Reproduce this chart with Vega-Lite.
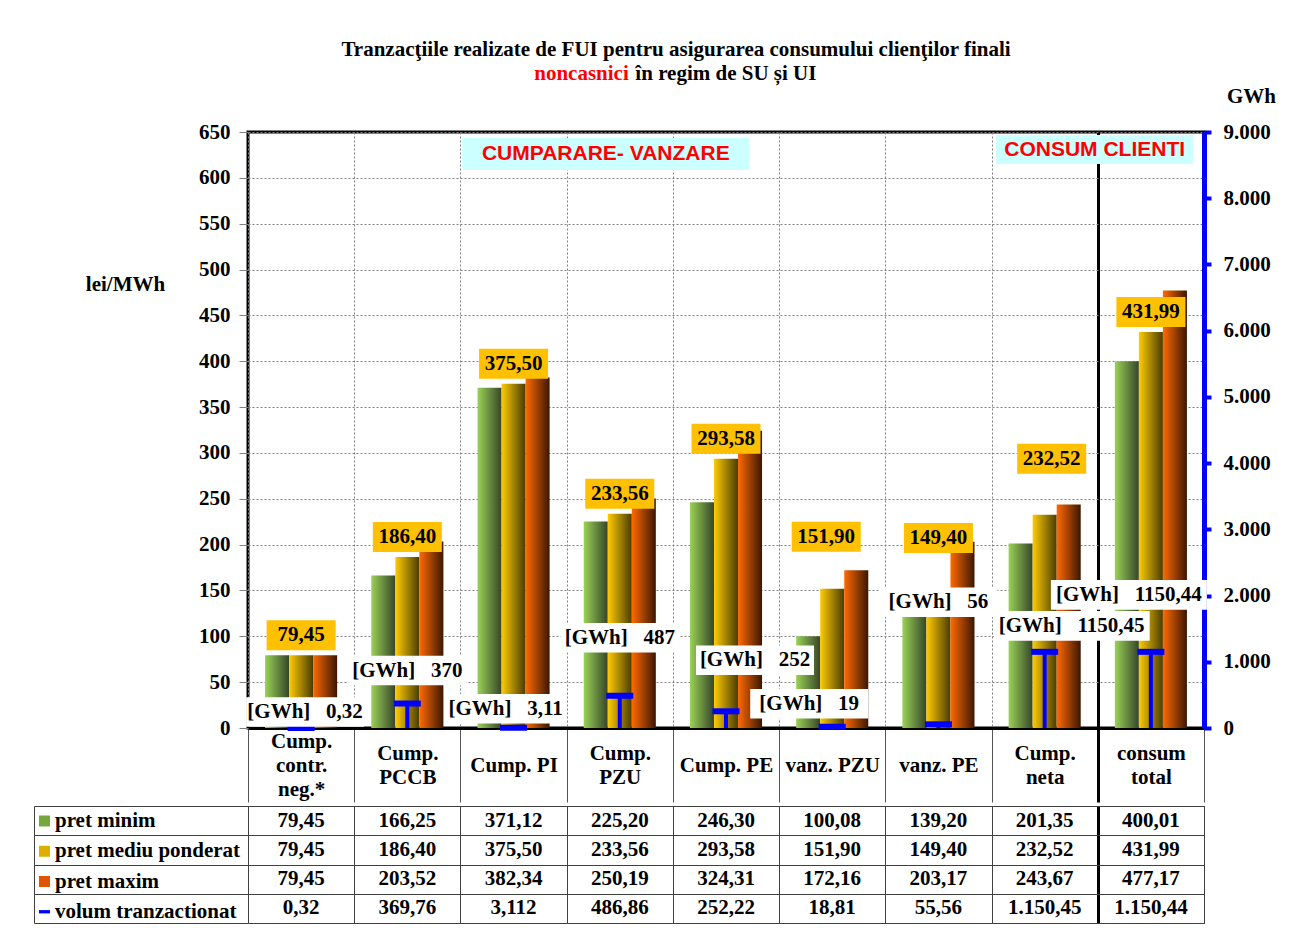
{
  "$schema": "https://vega.github.io/schema/vega-lite/v6.json",
  "background": "white",
  "padding": {"left": 33, "top": 38, "right": 10, "bottom": 5},
  "title": {
    "text": ["Tranzacţiile realizate de FUI pentru asigurarea consumului clienţilor finali", "\u200b\u00a0\u00a0\u00a0\u00a0\u00a0\u00a0\u00a0\u00a0\u00a0\u00a0\u00a0\u00a0\u00a0\u00a0\u00a0\u00a0\u00a0\u00a0 în regim de SU și UI"],
    "subtitle": "noncasnici\u00a0\u00a0\u00a0\u00a0\u00a0\u00a0\u00a0\u00a0\u00a0\u00a0\u00a0\u00a0\u00a0\u00a0\u00a0\u00a0\u00a0\u00a0\u00a0\u00a0\u00a0\u00a0\u00a0\u00a0\u00a0\u00a0\u00a0\u00a0\u00a0\u00a0\u00a0\u00a0\u00a0\u00a0\u00a0\u00a0\u200b",
    "anchor": "middle",
    "font": "Liberation Serif", "fontSize": 21, "fontWeight": "bold", "color": "black", "lineHeight": 24,
    "subtitleFont": "Liberation Serif", "subtitleFontSize": 21, "subtitleFontWeight": "bold", "subtitleColor": "#FF0000", "subtitleLineHeight": 24, "subtitlePadding": -21,
    "dx": 21, "offset": 0
  },
  "datasets": {
    "main": [
      {"cat": "Cump. contr. neg.*", "pret minim": 79.45, "pret mediu ponderat": 79.45, "pret maxim": 79.45, "volum tranzactionat": 0.32, "volLabel": "[GWh]\u00a0\u00a0\u00a00,32"},
      {"cat": "Cump. PCCB", "pret minim": 166.25, "pret mediu ponderat": 186.40, "pret maxim": 203.52, "volum tranzactionat": 369.76, "volLabel": "[GWh]\u00a0\u00a0\u00a0370"},
      {"cat": "Cump. PI", "pret minim": 371.12, "pret mediu ponderat": 375.50, "pret maxim": 382.34, "volum tranzactionat": 3.112, "volLabel": "[GWh]\u00a0\u00a0\u00a03,11"},
      {"cat": "Cump. PZU", "pret minim": 225.20, "pret mediu ponderat": 233.56, "pret maxim": 250.19, "volum tranzactionat": 486.86, "volLabel": "[GWh]\u00a0\u00a0\u00a0487"},
      {"cat": "Cump. PE", "pret minim": 246.30, "pret mediu ponderat": 293.58, "pret maxim": 324.31, "volum tranzactionat": 252.22, "volLabel": "[GWh]\u00a0\u00a0\u00a0252"},
      {"cat": "vanz. PZU", "pret minim": 100.08, "pret mediu ponderat": 151.90, "pret maxim": 172.16, "volum tranzactionat": 18.81, "volLabel": "[GWh]\u00a0\u00a0\u00a019"},
      {"cat": "vanz. PE", "pret minim": 139.20, "pret mediu ponderat": 149.40, "pret maxim": 203.17, "volum tranzactionat": 55.56, "volLabel": "[GWh]\u00a0\u00a0\u00a056"},
      {"cat": "Cump. neta", "pret minim": 201.35, "pret mediu ponderat": 232.52, "pret maxim": 243.67, "volum tranzactionat": 1150.45, "volLabel": "[GWh]\u00a0\u00a0\u00a01150,45"},
      {"cat": "consum total", "pret minim": 400.01, "pret mediu ponderat": 431.99, "pret maxim": 477.17, "volum tranzactionat": 1150.44, "volLabel": "[GWh]\u00a0\u00a0\u00a01150,44"}
    ]
  },
  "spacing": 0,
  "vconcat": [
    {
      "width": 956,
      "height": 596,
      "view": {"stroke": "black", "strokeWidth": 3},
      "data": {"name": "main"},
      "encoding": {
        "x": {
          "field": "cat", "type": "nominal", "sort": null,
          "scale": {"domain": ["Cump. contr. neg.*", "Cump. PCCB", "Cump. PI", "Cump. PZU", "Cump. PE", "vanz. PZU", "vanz. PE", "Cump. neta", "consum total"], "paddingInner": 0, "paddingOuter": 0},
          "axis": {
            "title": null, "orient": "bottom", "tickBand": "extent",
            "domain": true, "domainColor": "black", "domainWidth": 3,
            "ticks": true, "tickSize": 74,
            "tickColor": {"condition": {"test": "datum.value === 'Cump. neta'", "value": "black"}, "value": "#555555"},
            "tickWidth": {"condition": {"test": "datum.value === 'Cump. neta'", "value": 3}, "value": 1},
            "labelExpr": "datum.label === 'Cump. contr. neg.*' ? ['Cump.', '\u200b', 'contr.', '\u200b', 'neg.*'] : (indexof(['Cump. PI','Cump. PE','vanz. PZU','vanz. PE'], datum.label) >= 0 ? ['\u200b', '\u200b', datum.label] : ['\u200b', split(datum.label, ' ')[0], '\u200b', split(datum.label, ' ')[1]])",
            "labelFont": "Liberation Serif", "labelFontSize": 21, "labelFontWeight": "bold", "labelColor": "black",
            "labelBaseline": "middle", "labelPadding": -61, "labelLineHeight": 12, "labelAngle": 0, "labelOverlap": false, "labelLimit": 300,
            "grid": true,
            "gridColor": {"condition": {"test": "datum.value === 'Cump. neta'", "value": "black"}, "value": "#808080"},
            "gridWidth": {"condition": {"test": "datum.value === 'Cump. neta'", "value": 3}, "value": 1},
            "gridDash": {"condition": {"test": "datum.value === 'Cump. neta'", "value": []}, "value": [2, 2]}
          }
        }
      },
      "layer": [
        {
          "layer": [
            {
              "transform": [{"fold": ["pret minim", "pret mediu ponderat", "pret maxim"], "as": ["series", "price"]}, {"filter": "datum.series === 'pret minim'"}],
              "mark": {"type": "bar", "color": {"gradient": "linear", "x1": 0, "y1": 0, "x2": 1, "y2": 0, "stops": [{"offset": 0, "color": "#9AD256"}, {"offset": 1, "color": "#36452A"}]}},
              "encoding": {
                "xOffset": {"field": "series", "type": "nominal", "scale": {"domain": ["pret minim", "pret mediu ponderat", "pret maxim"], "paddingInner": 0, "paddingOuter": 0.71}},
                "y": {
                  "field": "price", "type": "quantitative", "scale": {"domain": [0, 650], "nice": false},
                  "axis": {
                    "orient": "left", "title": "lei/MWh", "titleAngle": 0, "titleX": -123, "titleY": 152, "titleAlign": "center", "titleBaseline": "middle",
                    "titleFont": "Liberation Serif", "titleFontSize": 21, "titleFontWeight": "bold", "titleColor": "black",
                    "values": [0, 50, 100, 150, 200, 250, 300, 350, 400, 450, 500, 550, 600, 650], "format": "d",
                    "grid": true, "gridColor": "#808080", "gridDash": [2, 2], "gridWidth": 1,
                    "domain": false, "ticks": true, "tickSize": 9, "tickColor": "#808080",
                    "labelFont": "Liberation Serif", "labelFontSize": 21, "labelFontWeight": "bold", "labelColor": "black", "labelPadding": 9
                  }
                }
              }
            },
            {
              "transform": [{"fold": ["pret minim", "pret mediu ponderat", "pret maxim"], "as": ["series", "price"]}, {"filter": "datum.series === 'pret mediu ponderat'"}],
              "mark": {"type": "bar", "color": {"gradient": "linear", "x1": 0, "y1": 0, "x2": 1, "y2": 0, "stops": [{"offset": 0, "color": "#FFCC00"}, {"offset": 1, "color": "#4A3C00"}]}},
              "encoding": {
                "xOffset": {"field": "series", "type": "nominal", "scale": {"domain": ["pret minim", "pret mediu ponderat", "pret maxim"], "paddingInner": 0, "paddingOuter": 0.71}},
                "y": {"field": "price", "type": "quantitative", "scale": {"domain": [0, 650], "nice": false}}
              }
            },
            {
              "transform": [{"fold": ["pret minim", "pret mediu ponderat", "pret maxim"], "as": ["series", "price"]}, {"filter": "datum.series === 'pret maxim'"}],
              "mark": {"type": "bar", "color": {"gradient": "linear", "x1": 0, "y1": 0, "x2": 1, "y2": 0, "stops": [{"offset": 0, "color": "#FF6A00"}, {"offset": 1, "color": "#3C1600"}]}},
              "encoding": {
                "xOffset": {"field": "series", "type": "nominal", "scale": {"domain": ["pret minim", "pret mediu ponderat", "pret maxim"], "paddingInner": 0, "paddingOuter": 0.71}},
                "y": {"field": "price", "type": "quantitative", "scale": {"domain": [0, 650], "nice": false}}
              }
            },
            {
              "mark": {"type": "point", "shape": "M-1,-0.435L1,-0.435L1,0.435L-1,0.435Z", "size": 4761, "filled": true, "fill": "#FFC000", "opacity": 1, "strokeWidth": 0,
                "yOffset": {"expr": "datum.cat === 'vanz. PZU' ? -52 : datum.cat === 'vanz. PE' ? -53 : datum.cat === 'Cump. neta' ? -56 : -20"},
                "xOffset": {"expr": "datum.cat === 'Cump. neta' ? 7 : datum.cat === 'vanz. PZU' ? -6 : 0"}},
              "encoding": {"y": {"field": "pret mediu ponderat", "type": "quantitative", "scale": {"domain": [0, 650], "nice": false}}}
            },
            {
              "mark": {"type": "text", "font": "Liberation Serif", "fontSize": 21, "fontWeight": "bold", "color": "black", "baseline": "middle",
                "dy": {"expr": "datum.cat === 'vanz. PZU' ? -52 : datum.cat === 'vanz. PE' ? -53 : datum.cat === 'Cump. neta' ? -56 : -20"},
                "dx": {"expr": "datum.cat === 'Cump. neta' ? 7 : datum.cat === 'vanz. PZU' ? -6 : 0"}},
              "encoding": {
                "y": {"field": "pret mediu ponderat", "type": "quantitative", "scale": {"domain": [0, 650], "nice": false}},
                "text": {"field": "pret mediu ponderat", "type": "quantitative", "format": ",.2f"}
              }
            },
            {
              "data": {"values": [{"cat": "Cump. PZU", "note": "CUMPARARE- VANZARE"}]},
              "mark": {"type": "point", "shape": "M-1,-0.1115L1,-0.1115L1,0.1115L-1,0.1115Z", "size": 82369, "filled": true, "fill": "#CCFFFF", "opacity": 1, "strokeWidth": 0, "xOffset": -14, "yOffset": 22},
              "encoding": {"y": {"datum": 650, "type": "quantitative", "scale": {"domain": [0, 650], "nice": false}}}
            },
            {
              "data": {"values": [{"cat": "Cump. PZU", "note": "CUMPARARE- VANZARE"}]},
              "mark": {"type": "text", "font": "Liberation Sans", "fontSize": 21, "fontWeight": "bold", "color": "#FF0000", "baseline": "middle", "dx": -14, "dy": 22},
              "encoding": {"y": {"datum": 650, "type": "quantitative", "scale": {"domain": [0, 650], "nice": false}}, "text": {"field": "note"}}
            },
            {
              "data": {"values": [{"cat": "Cump. neta", "note": "CONSUM CLIENTI"}]},
              "mark": {"type": "point", "shape": "M-1,-0.147L1,-0.147L1,0.147L-1,0.147Z", "size": 38809, "filled": true, "fill": "#CCFFFF", "opacity": 1, "strokeWidth": 0, "xOffset": 50, "yOffset": 17.5},
              "encoding": {"y": {"datum": 650, "type": "quantitative", "scale": {"domain": [0, 650], "nice": false}}}
            },
            {
              "data": {"values": [{"cat": "Cump. neta", "note": "CONSUM CLIENTI"}]},
              "mark": {"type": "text", "font": "Liberation Sans", "fontSize": 21, "fontWeight": "bold", "color": "#FF0000", "baseline": "middle", "dx": 50, "dy": 17.5},
              "encoding": {"y": {"datum": 650, "type": "quantitative", "scale": {"domain": [0, 650], "nice": false}}, "text": {"field": "note"}}
            }
          ]
        },
        {
          "layer": [
            {
              "mark": {"type": "rule", "color": "#0000FF", "strokeWidth": 4},
              "encoding": {
                "y": {
                  "field": "volum tranzactionat", "type": "quantitative", "scale": {"domain": [0, 9000], "nice": false},
                  "axis": {
                    "orient": "right", "title": "GWh", "titleAngle": 0, "titleX": 47, "titleY": -36, "titleAlign": "center", "titleBaseline": "middle",
                    "titleFont": "Liberation Serif", "titleFontSize": 21, "titleFontWeight": "bold", "titleColor": "black",
                    "values": [0, 1000, 2000, 3000, 4000, 5000, 6000, 7000, 8000, 9000], "format": ",d",
                    "grid": false, "domain": true, "domainColor": "#0000FF", "domainWidth": 5,
                    "ticks": true, "tickColor": "#0000FF", "tickWidth": 4, "tickSize": 7,
                    "labelFont": "Liberation Serif", "labelFontSize": 21, "labelFontWeight": "bold", "labelColor": "black", "labelPadding": 12
                  }
                },
                "y2": {"datum": 0}
              }
            },
            {
              "mark": {"type": "tick", "color": "#0000FF", "thickness": 6, "size": 27, "opacity": 1},
              "encoding": {"y": {"field": "volum tranzactionat", "type": "quantitative", "scale": {"domain": [0, 9000], "nice": false}}}
            },
            {
              "mark": {"type": "point", "filled": true, "fill": "white", "opacity": 1, "strokeWidth": 0,
                "xOffset": {"expr": "datum.cat === 'Cump. PE' ? 29 : datum.cat === 'vanz. PZU' ? -23 : datum.cat === 'Cump. neta' ? 27 : datum.cat === 'consum total' ? -22 : datum.cat === 'Cump. PI' ? -8 : datum.cat === 'Cump. contr. neg.*' ? 4 : 0"},
                "yOffset": {"expr": "datum.cat === 'Cump. contr. neg.*' ? -16 : datum.cat === 'Cump. PCCB' ? -33 : datum.cat === 'Cump. PI' ? -19 : datum.cat === 'Cump. PZU' ? -58 : datum.cat === 'Cump. PE' ? -51 : datum.cat === 'vanz. PZU' ? -23 : datum.cat === 'vanz. PE' ? -122 : datum.cat === 'Cump. neta' ? -26 : -57"}},
              "encoding": {
                "y": {"field": "volum tranzactionat", "type": "quantitative", "scale": {"domain": [0, 9000], "nice": false}},
                "shape": {"condition": {"test": "length(datum.volLabel) > 13", "value": "M-1,-0.19L1,-0.19L1,0.19L-1,0.19Z"}, "value": "M-1,-0.25L1,-0.25L1,0.25L-1,0.25Z"},
                "size": {"condition": {"test": "length(datum.volLabel) > 13", "value": 24336}, "value": 13924}
              }
            },
            {
              "mark": {"type": "text", "font": "Liberation Serif", "fontSize": 21, "fontWeight": "bold", "color": "black", "baseline": "middle",
                "dx": {"expr": "datum.cat === 'Cump. PE' ? 29 : datum.cat === 'vanz. PZU' ? -23 : datum.cat === 'Cump. neta' ? 27 : datum.cat === 'consum total' ? -22 : datum.cat === 'Cump. PI' ? -8 : datum.cat === 'Cump. contr. neg.*' ? 4 : 0"},
                "dy": {"expr": "datum.cat === 'Cump. contr. neg.*' ? -16 : datum.cat === 'Cump. PCCB' ? -33 : datum.cat === 'Cump. PI' ? -19 : datum.cat === 'Cump. PZU' ? -58 : datum.cat === 'Cump. PE' ? -51 : datum.cat === 'vanz. PZU' ? -23 : datum.cat === 'vanz. PE' ? -122 : datum.cat === 'Cump. neta' ? -26 : -57"}},
              "encoding": {
                "y": {"field": "volum tranzactionat", "type": "quantitative", "scale": {"domain": [0, 9000], "nice": false}},
                "text": {"field": "volLabel"}
              }
            }
          ]
        }
      ],
      "resolve": {"scale": {"y": "independent"}}
    },
    {
      "width": 956,
      "height": 117,
      "view": {"stroke": "#404040", "strokeWidth": 1},
      "data": {"name": "main"},
      "transform": [{"fold": ["pret minim", "pret mediu ponderat", "pret maxim", "volum tranzactionat"], "as": ["row", "v"]}],
      "encoding": {
        "x": {
          "field": "cat", "type": "nominal", "sort": null,
          "scale": {"domain": ["Cump. contr. neg.*", "Cump. PCCB", "Cump. PI", "Cump. PZU", "Cump. PE", "vanz. PZU", "vanz. PE", "Cump. neta", "consum total"], "paddingInner": 0, "paddingOuter": 0},
          "axis": {
            "title": null, "labels": false, "ticks": false, "domain": false, "grid": true, "tickBand": "extent",
            "gridColor": {"condition": {"test": "datum.value === 'Cump. neta'", "value": "black"}, "value": "#404040"},
            "gridWidth": {"condition": {"test": "datum.value === 'Cump. neta'", "value": 3}, "value": 1},
            "gridDash": []
          }
        },
        "y": {
          "field": "row", "type": "nominal", "sort": null,
          "scale": {"domain": ["pret minim", "pret mediu ponderat", "pret maxim", "volum tranzactionat"], "paddingInner": 0, "paddingOuter": 0},
          "axis": {
            "title": null, "orient": "left", "offset": 214, "labels": false,
            "domain": true, "domainColor": "#404040", "domainWidth": 1,
            "ticks": true, "tickBand": "extent", "tickSize": -214, "tickColor": "#404040", "tickWidth": 1,
            "grid": true, "gridColor": "#404040", "gridDash": []
          }
        }
      },
      "layer": [
        {
          "transform": [{"filter": "datum.row !== 'volum tranzactionat'"}],
          "mark": {"type": "text", "font": "Liberation Serif", "fontSize": 21, "fontWeight": "bold", "color": "black", "baseline": "middle"},
          "encoding": {"text": {"field": "v", "type": "quantitative", "format": ",.2f"}}
        },
        {
          "transform": [{"filter": "datum.row === 'volum tranzactionat'"}],
          "mark": {"type": "text", "font": "Liberation Serif", "fontSize": 21, "fontWeight": "bold", "color": "black", "baseline": "middle"},
          "encoding": {"text": {"field": "v", "type": "quantitative", "format": ",.3~f"}}
        },
        {
          "mark": {"type": "point", "size": 0, "filled": true, "strokeWidth": 0},
          "encoding": {
            "fill": {
              "field": "row", "type": "nominal",
              "scale": {"domain": ["pret minim", "pret mediu ponderat", "pret maxim", "volum tranzactionat"], "range": ["#74A83F", "#DDB000", "#E05500", "#0000FF"]},
              "legend": {"title": null, "orient": "none", "legendX": -214, "legendY": 4.5, "direction": "vertical", "labelFont": "Liberation Serif", "labelFontSize": 21, "labelFontWeight": "bold", "labelColor": "black", "labelOffset": 0, "labelLimit": 260, "symbolSize": 121, "symbolOpacity": 1, "symbolStrokeWidth": 0, "rowPadding": 8.25, "padding": 0}
            },
            "shape": {
              "field": "row", "type": "nominal",
              "scale": {"domain": ["pret minim", "pret mediu ponderat", "pret maxim", "volum tranzactionat"], "range": ["square", "square", "square", "M-1,-0.3L1,-0.3L1,0.3L-1,0.3Z"]},
              "legend": {"title": null, "orient": "none", "legendX": -214, "legendY": 4.5, "direction": "vertical", "labelFont": "Liberation Serif", "labelFontSize": 21, "labelFontWeight": "bold", "labelColor": "black", "labelOffset": 0, "labelLimit": 260, "symbolSize": 121, "symbolOpacity": 1, "symbolStrokeWidth": 0, "rowPadding": 8.25, "padding": 0}
            }
          }
        }
      ]
    }
  ],
  "resolve": {"scale": {"fill": "independent", "shape": "independent"}},
  "config": {
    "font": "Liberation Serif",
    "locale": {"number": {"decimal": ",", "thousands": ".", "grouping": [3], "currency": ["", ""]}},
    "view": {"stroke": null}
  }
}
